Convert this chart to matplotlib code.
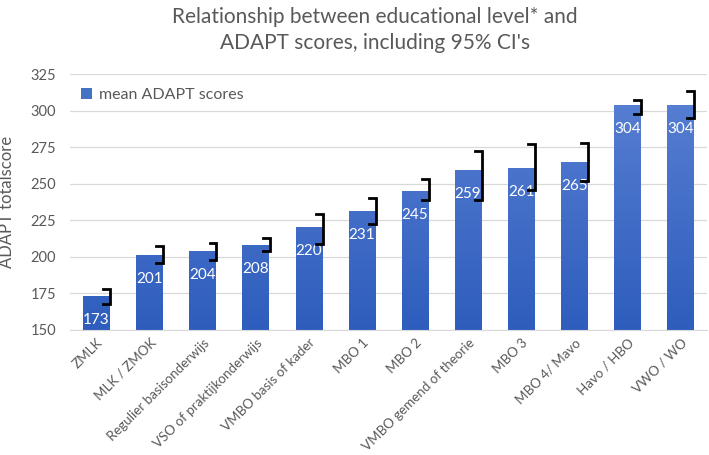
import matplotlib.pyplot as plt
import numpy as np
from matplotlib.patches import Patch

plt.rcParams['font.family'] = ['Lato', 'DejaVu Sans']

# Data
categories = ['ZMLK', 'MLK / ZMOK', 'Regulier basisonderwijs', 'VSO of praktijkonderwijs',
              'VMBO basis of kader', 'MBO 1', 'MBO 2', 'VMBO gemend of theorie',
              'MBO 3', 'MBO 4/ Mavo', 'Havo / HBO', 'VWO / WO']
means = [173, 201, 204, 208, 220, 231, 245, 259, 261, 265, 304, 304]
ci_low = [167.5, 195.5, 197.5, 203.5, 208.5, 222.5, 238.5, 238.5, 245.5, 251.5, 298, 295]
ci_high = [178, 207, 209, 212.5, 229, 240, 253, 272, 277, 278, 307.5, 313.5]
yticks = [150, 175, 200, 225, 250, 275, 300, 325]

grey = '#595959'
top_col = np.array([0x5B, 0x82, 0xD4]) / 255
bot_col = np.array([0x2E, 0x5D, 0xBD]) / 255

fig = plt.figure(figsize=(7.09, 4.55), dpi=100, facecolor='white')
ax = fig.add_axes([0.0987, 0.2758, 0.8983, 0.5612])

x = np.arange(len(categories))
width = 0.5
ymin, ymax = 150, 325

bars = ax.bar(x, np.array(means) - ymin, bottom=ymin, width=width,
              color='none', edgecolor='none', zorder=2)

# gradient fill inside each bar
grad = np.linspace(0, 1, 256).reshape(-1, 1)
cols = top_col[None, :] * (1 - grad) + bot_col[None, :] * grad
img = cols.reshape(256, 1, 3)
for b, m in zip(bars, means):
    x0 = b.get_x()
    # gradient spans the full axis height so all bars share the same shading
    im = ax.imshow(img, extent=[x0, x0 + width, ymin, ymax], aspect='auto',
                   origin='upper', zorder=2, interpolation='bilinear')
    im.set_clip_path(b)

# value labels
for xi, m in zip(x, means):
    ax.annotate(str(m), (xi, m), xytext=(0, -24), textcoords='offset pixels',
                ha='center', va='center', color='white', fontsize=11, zorder=4)

# CI brackets at the right edge of each bar
tick = 0.13
for xi, lo, hi in zip(x, ci_low, ci_high):
    xr = xi + width / 2 + 0.01
    ax.plot([xr - tick, xr, xr, xr - tick], [hi, hi, lo, lo], color='black',
            lw=2, solid_joinstyle='miter', zorder=5)

ax.set_xlim(-0.5, len(categories) - 0.5)
ax.set_ylim(ymin, ymax)
ax.set_yticks(yticks)
ax.yaxis.grid(True, color='#D9D9D9', lw=0.9, zorder=0)
ax.set_axisbelow(True)
for s in ['top', 'right', 'left']:
    ax.spines[s].set_visible(False)
ax.spines['bottom'].set_color('#D9D9D9')
ax.tick_params(axis='both', length=0, colors=grey, labelsize=10.5)
ax.tick_params(axis='y', pad=10)
ax.set_xticks(x)
ax.set_xticklabels(categories, rotation=45, ha='right', rotation_mode='anchor',
                   fontsize=9.6)
ax.tick_params(axis='x', pad=5)

ax.set_ylabel('ADAPT totalscore', color=grey, fontsize=12, labelpad=11)

leg_handle = Patch(facecolor='#4472C4', edgecolor='none')
ax.legend([leg_handle], ['mean ADAPT scores'], loc='upper left', frameon=False,
          fontsize=11.5, labelcolor=grey, handlelength=0.7, handleheight=0.7,
          handletextpad=0.4, bbox_to_anchor=(0.0, 0.99), borderaxespad=0.3)

fig.text(375 / 709, 1 - 30 / 455, "Relationship between educational level* and\nADAPT scores, including 95% CI's",
         ha='center', va='center', color=grey, fontsize=15, linespacing=1.4)

plt.savefig('out.png', dpi=100, facecolor='white')
plt.close()
